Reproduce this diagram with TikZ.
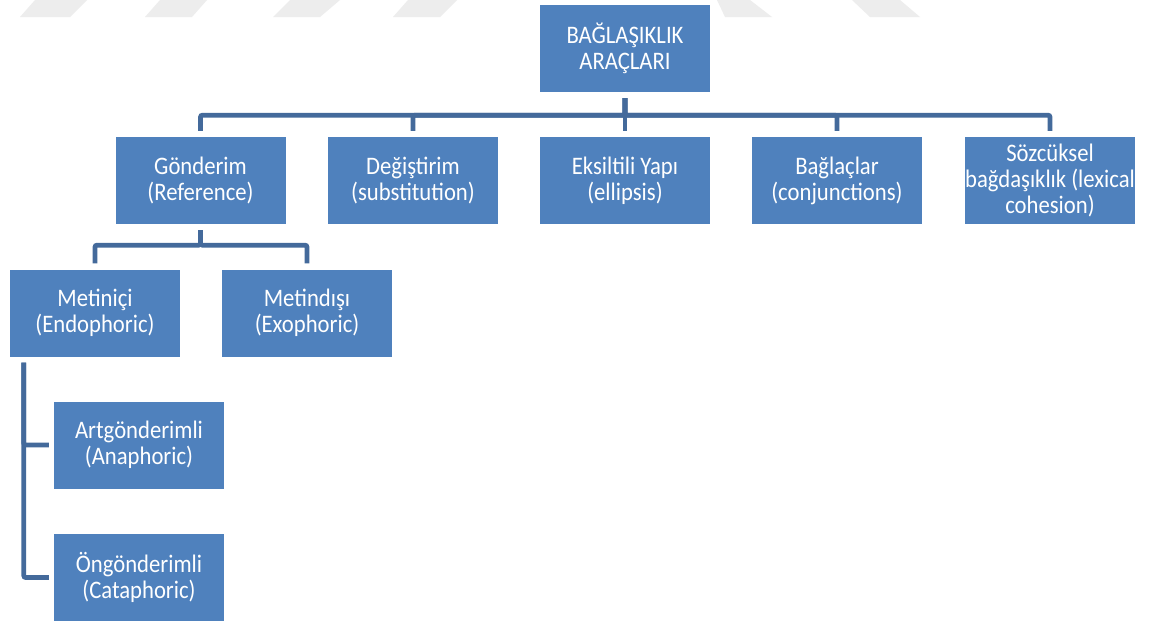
\documentclass[tikz,border=0pt]{standalone}
\usepackage{fontspec}
\setmainfont{Carlito}[FakeStretch=0.9]
\begin{document}
\begin{tikzpicture}[x=1pt,y=-1pt,
  box/.style={fill=boxblue, text=white, minimum width=170pt, minimum height=87pt,
    inner sep=0pt, align=center, font=\fontsize{25.2pt}{26pt}\selectfont},
  conn/.style={draw=connblue, line width=4.8pt, rounded corners=2pt},
  wm/.style={fill=black!7, draw=none}]
\definecolor{boxblue}{RGB}{79,129,189}
\definecolor{connblue}{RGB}{68,106,155}
\useasboundingbox[fill=white] (0,0) rectangle (1149,622);
% faint watermark shapes
\fill[wm] (20,17) -- (70,17) -- (87,0) -- (35,0) -- cycle;
\fill[wm] (145,17) -- (192,17) -- (207,0) -- (160,0) -- cycle;
\fill[wm] (273,17) -- (320,17) -- (340,0) -- (290,0) -- cycle;
\fill[wm] (393,17) -- (440,17) -- (457,0) -- (408,0) -- cycle;
\fill[wm] (717,0) -- (750,0) -- (772,17) -- (725,17) -- cycle;
\fill[wm] (852,0) -- (900,0) -- (920,17) -- (870,17) -- cycle;
% nodes
\node[box] (root) at (625,48.5) {BAĞLAŞIKLIK\\ARAÇLARI};
\node[box] (gon) at (200.5,180.5) {Gönderim\\(Reference)};
\node[box] (deg) at (413,180.5) {Değiştirim\\(substitution)};
\node[box] (eks) at (625,180.5) {Eksiltili Yapı\\(ellipsis)};
\node[box] (bag) at (837,180.5) {Bağlaçlar\\(conjunctions)};
\node[box] (soz) at (1050,180.5) {Sözcüksel\\bağdaşıklık (lexical\\cohesion)};
\node[box] (ic) at (95,313) {Metiniçi\\(Endophoric)};
\node[box] (dis) at (307,313) {Metindışı\\(Exophoric)};
\node[box] (art) at (139,445) {Artgönderimli\\(Anaphoric)};
\node[box] (on) at (139,577.5) {Öngönderimli\\(Cataphoric)};
% connectors
\foreach \t in {gon,deg,eks,bag,soz}
  \draw[conn, shorten <=6pt, shorten >=6pt] (root.south) -- ++(0,23) -| (\t.north);
\foreach \t in {ic,dis}
  \draw[conn, shorten <=6pt, shorten >=6pt] (gon.south) -- ++(0,21) -| (\t.north);
\foreach \t in {art,on}
  \draw[conn, shorten <=6pt, shorten >=5pt] ([xshift=14pt]ic.south west) |- (\t.west);
\end{tikzpicture}
\end{document}
